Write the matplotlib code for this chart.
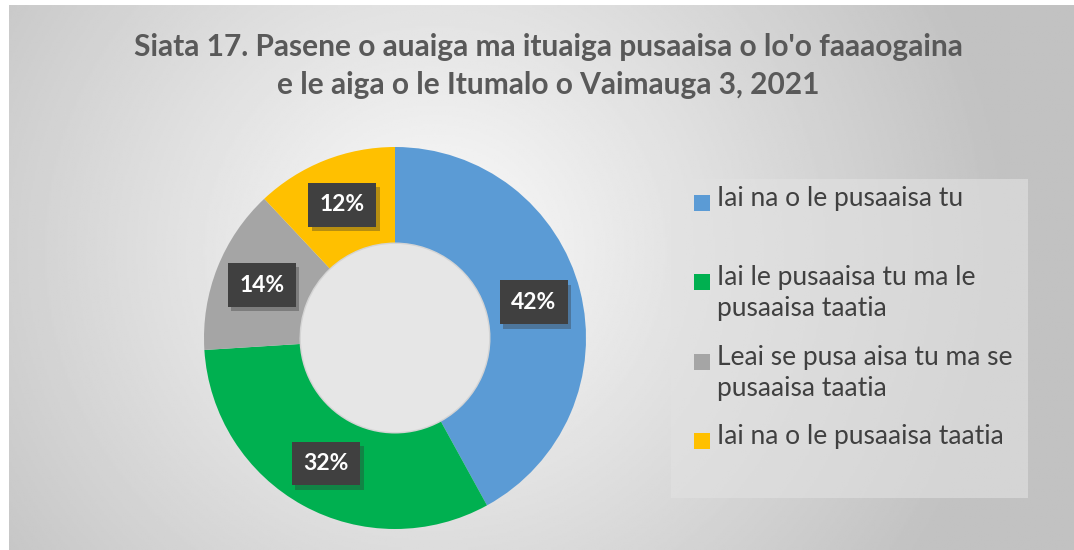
import numpy as np
import matplotlib
matplotlib.use("Agg")
import matplotlib.pyplot as plt
from matplotlib.patches import Rectangle, Circle
import matplotlib.patheffects as pe

# Data
categories = [
    "Iai na o le pusaaisa tu",
    "Iai le pusaaisa tu ma le\npusaaisa taatia",
    "Leai se pusa aisa tu ma se\npusaaisa taatia",
    "Iai na o le pusaaisa taatia",
]
values = [42, 32, 14, 12]
colors = ["#5B9BD5", "#00B050", "#A5A5A5", "#FFC000"]
title = "Siata 17. Pasene o auaiga ma ituaiga pusaaisa o lo'o faaaogaina\ne le aiga o le Itumalo o Vaimauga 3, 2021"

plt.rcParams["font.family"] = ["Lato", "DejaVu Sans"]

W, H = 1074, 550
fig = plt.figure(figsize=(W / 100, H / 100), dpi=100)
fig.patch.set_facecolor("white")

# radial gradient background
bg = fig.add_axes([9 / W, 0, 1 - 9 / W, 545 / H])
bg.set_axis_off()
yy, xx = np.mgrid[0:1:300j, 0:1:600j]
d = np.sqrt(((xx - 0.40) * 1.9) ** 2 + ((yy - 0.45) * 1.0) ** 2)
shade = np.clip(0.985 - 0.22 * d, 0.76, 1.0)
bg.imshow(shade, cmap="gray", vmin=0, vmax=1, aspect="auto",
          extent=[0, 1, 0, 1], origin="upper")

# donut
cx, cy, r = 395, 338, 191
ax = fig.add_axes([(cx - r) / W, (H - cy - r) / H, 2 * r / W, 2 * r / H])
ax.set_axis_off()
wedges, _ = ax.pie(values, colors=colors, startangle=90, counterclock=False,
                   radius=1.0, wedgeprops=dict(width=0.5, linewidth=0))
ax.add_patch(Circle((0, 0), 0.5, facecolor="#e6e6e6",
                    edgecolor="#d4d4d4", linewidth=2, zorder=0.5))
ax.set_xlim(-1, 1)
ax.set_ylim(-1, 1)

cum = np.cumsum([0] + values[:-1])
total = sum(values)
for v, c0 in zip(values, cum):
    mid = np.deg2rad(90 - (c0 + v / 2) / total * 360)
    t = ax.text(0.75 * np.cos(mid), 0.75 * np.sin(mid), f"{v}%",
                ha="center", va="center", color="white", fontsize=16.5,
                fontweight="bold",
                bbox=dict(boxstyle="square,pad=0.5", facecolor="#404040",
                          edgecolor="none", linewidth=0))
    t.get_bbox_patch().set_path_effects(
        [pe.SimplePatchShadow(offset=(2.5, -3), shadow_rgbFace="#333333", alpha=0.35),
         pe.Normal()])

# title
fig.text(548 / W, 1 - 66 / H, title, ha="center", va="center",
         fontsize=21.5, fontweight="bold", color="#595959", linespacing=1.45)

# legend
fig.patches.append(Rectangle((671 / W, 1 - 498 / H), (1028 - 671) / W, (498 - 179) / H,
                             transform=fig.transFigure, facecolor="#e2e2e2",
                             alpha=0.6, edgecolor="none"))
legend_y = [203, 282, 362, 441]
for lab, col, y in zip(categories, colors, legend_y):
    fig.patches.append(Rectangle((694 / W, 1 - (y + 8) / H), 16 / W, 16 / H,
                                 transform=fig.transFigure, facecolor=col,
                                 edgecolor="none"))
    fig.text(717 / W, 1 - (y - 17) / H, lab, ha="left", va="top",
             fontsize=19, color="#404040", linespacing=1.3)

fig.savefig("out.png", dpi=100)
